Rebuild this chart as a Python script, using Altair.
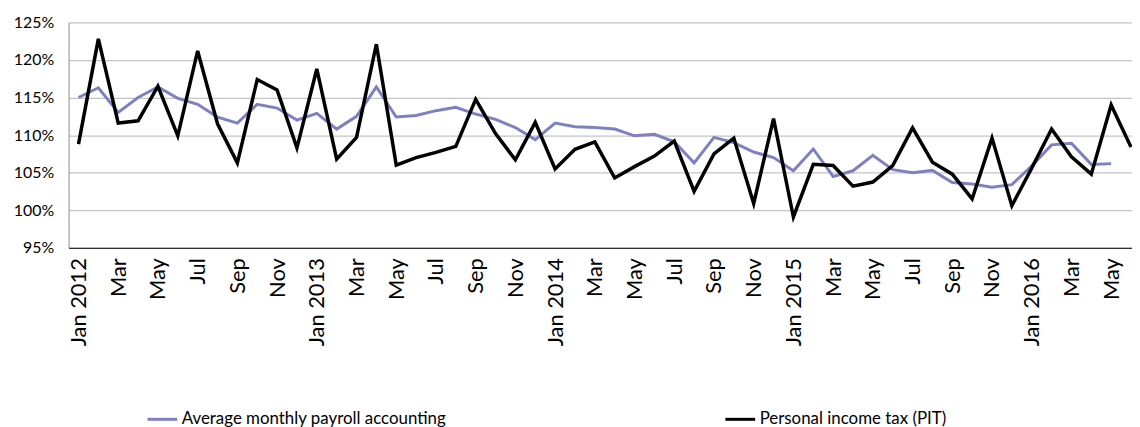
import altair as alt
import pandas as pd

series_names = ["Average monthly payroll accounting", "Personal income tax (PIT)"]
series_colors = ["#7F80C2", "#000000"]

month_keys = [f"{y}-{m:02d}" for y in range(2012, 2017) for m in range(1, 13)][:54]

payroll = [
    115.0, 116.3, 113.0, 115.0, 116.4, 114.9, 114.1, 112.4, 111.6, 114.1, 113.6, 112.0,
    112.9, 110.8, 112.5, 116.4, 112.4, 112.6, 113.25, 113.7, 112.8, 112.1, 111.0, 109.4,
    111.6, 111.1, 111.0, 110.8, 109.9, 110.1, 109.1, 106.3, 109.7, 109.0, 107.75, 107.0,
    105.25, 108.15, 104.5, 105.25, 107.3, 105.4, 105.0, 105.3, 103.7, 103.5, 103.05, 103.4,
    105.9, 108.7, 108.9, 106.1, 106.2,
]
pit = [
    108.8, 122.8, 111.6, 111.9, 116.5, 109.9, 121.2, 111.5, 106.3, 117.4, 116.0, 108.3,
    118.8, 106.8, 109.7, 122.1, 106.0, 107.0, 107.7, 108.5, 114.75, 110.2, 106.7, 111.7,
    105.5, 108.1, 109.1, 104.3, 105.8, 107.2, 109.2, 102.5, 107.5, 109.6, 100.9, 112.2,
    99.1, 106.1, 105.95, 103.2, 103.75, 105.95, 110.95, 106.4, 104.8, 101.5, 109.6, 100.6,
    105.6, 110.8, 107.1, 104.8, 114.0, 108.4,
]

tick_keys = month_keys[::2]
tick_labels = [
    "Jan 2012", "Mar", "May", "Jul", "Sep", "Nov",
    "Jan 2013", "Mar", "May", "Jul", "Sep", "Nov",
    "Jan 2014", "Mar", "May", "Jul", "Sep", "Nov",
    "Jan 2015", "Mar", "May", "Jul", "Sep", "Nov",
    "Jan 2016", "Mar", "May",
]
y_ticks = [95, 100, 105, 110, 115, 120, 125]

rows = []
for k, v in zip(month_keys, payroll):
    rows.append({"month": k, "series": series_names[0], "value": v})
for k, v in zip(month_keys, pit):
    rows.append({"month": k, "series": series_names[1], "value": v})
df = pd.DataFrame(rows)

label_expr = ""
for k, lab in zip(tick_keys, tick_labels):
    label_expr += f"datum.value == '{k}' ? '{lab}' : "
label_expr += "''"

FONT = "Lato"

x_enc = alt.X(
    "month:O",
    scale=alt.Scale(type="point", domain=month_keys, padding=0.5, range=[0, 1080]),
    axis=alt.Axis(
        values=tick_keys,
        labelExpr=label_expr,
        labelAngle=-90,
        labelFont=FONT,
        labelFontSize=22,
        labelColor="#000000",
        labelPadding=10,
        ticks=False,
        tickSize=0,
        domainColor="#000000",
        domainWidth=1,
        grid=False,
        labelOverlap=False,
        labelFlush=False,
        labelLimit=200,
        title=None,
    ),
)
y_enc = alt.Y(
    "value:Q",
    scale=alt.Scale(domain=[95, 125], nice=False, zero=False),
    axis=alt.Axis(
        values=y_ticks,
        labelExpr="datum.value + '%'",
        labelFont=FONT,
        labelFontSize=16,
        labelColor="#000000",
        labelPadding=15,
        ticks=False,
        tickSize=0,
        domainColor="#8c8c8c",
        domainWidth=1,
        grid=True,
        gridColor="#c4c4c4",
        gridWidth=1.2,
        title=None,
    ),
)
color_enc = alt.Color(
    "series:N",
    scale=alt.Scale(domain=series_names, range=series_colors),
    legend=alt.Legend(
        orient="none",
        legendX=78,
        legendY=383,
        direction="horizontal",
        title=None,
        symbolType="stroke",
        symbolSize=900,
        symbolStrokeWidth=3,
        labelFont=FONT,
        labelFontSize=17,
        labelColor="#000000",
        labelOffset=3,
        labelLimit=600,
        columnPadding=274,
        padding=0,
    ),
)

base = alt.Chart(df)
blue = base.transform_filter(alt.datum.series == series_names[0]).mark_line(strokeWidth=3).encode(
    x=x_enc, y=y_enc, color=color_enc
)
black = base.transform_filter(alt.datum.series == series_names[1]).mark_line(strokeWidth=3.5).encode(
    x=x_enc, y=y_enc, color=color_enc
)

chart = (
    alt.layer(blue, black)
    .properties(
        width=1071,
        height=227,
        autosize=alt.AutoSizeParams(type="none"),
        padding={"left": 61, "top": 13, "right": 0, "bottom": 179},
        background="white",
    )
    .configure_view(stroke=None)
)

chart.save("out.html", embed_options={"renderer": "svg", "actions": False})
